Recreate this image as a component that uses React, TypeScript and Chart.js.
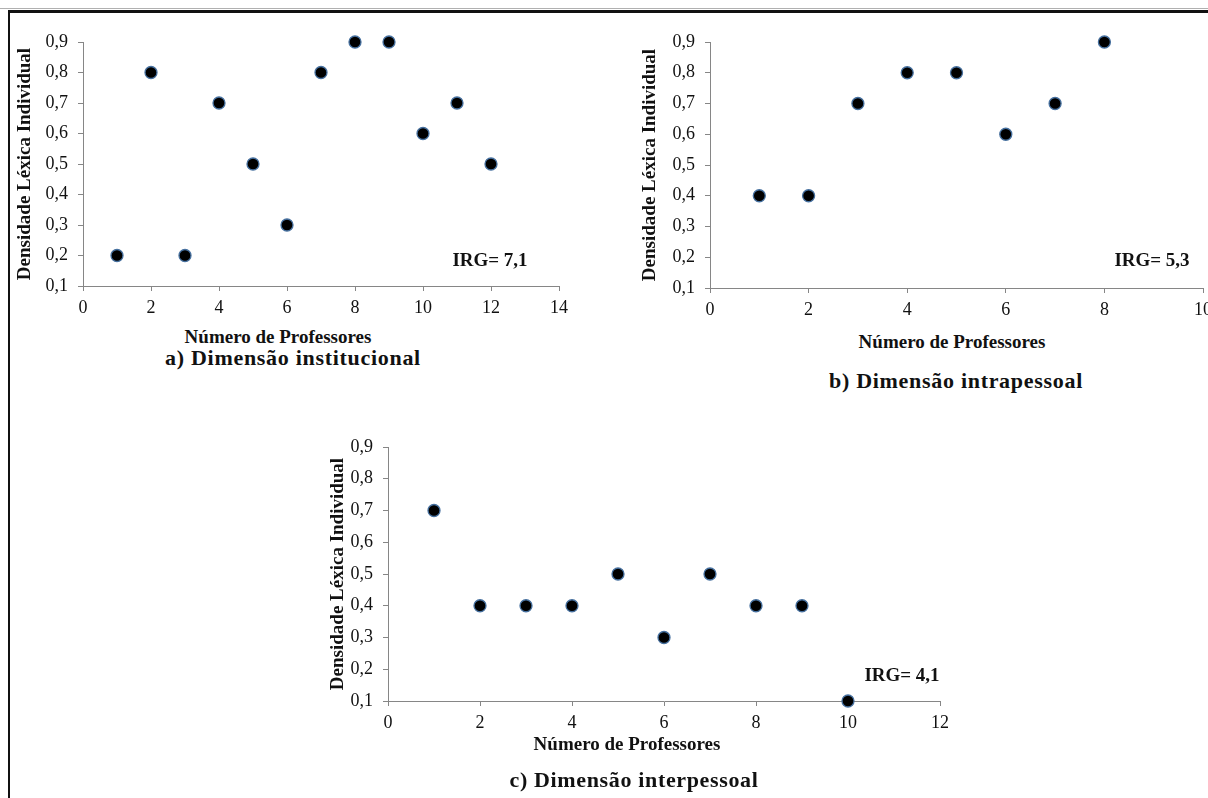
import React, { useEffect, useRef } from "react";
import { Chart, registerables } from "chart.js";

Chart.register(...registerables);

// ---- data ----
const xA = [1, 2, 3, 4, 5, 6, 7, 8, 9, 10, 11, 12];
const yA = [0.2, 0.8, 0.2, 0.7, 0.5, 0.3, 0.8, 0.9, 0.9, 0.6, 0.7, 0.5];
const xB = [1, 2, 3, 4, 5, 6, 7, 8];
const yB = [0.4, 0.4, 0.7, 0.8, 0.8, 0.6, 0.7, 0.9];
const xC = [1, 2, 3, 4, 5, 6, 7, 8, 9, 10];
const yC = [0.7, 0.4, 0.4, 0.4, 0.5, 0.3, 0.5, 0.4, 0.4, 0.1];

const xTicksA = [0, 2, 4, 6, 8, 10, 12, 14];
const xTicksB = [0, 2, 4, 6, 8, 10];
const xTicksC = [0, 2, 4, 6, 8, 10, 12];
const yTicks = [0.1, 0.2, 0.3, 0.4, 0.5, 0.6, 0.7, 0.8, 0.9];

const yTitle = "Densidade Léxica Individual";
const xTitle = "Número de Professores";
const subA = "a) Dimensão institucional";
const subB = "b) Dimensão intrapessoal";
const subC = "c) Dimensão interpessoal";
const irgA = "IRG= 7,1";
const irgB = "IRG= 5,3";
const irgC = "IRG= 4,1";

const FONT = "'Liberation Serif', 'Times New Roman', serif";
const AXIS = "#868686";
const TEXT = "#111111";

type PanelProps = {
  xs: number[];
  ys: number[];
  xTicks: number[];
  left: number;
  top: number;
  width: number;
  height: number;
  yAxisWidth: number;
  yTitlePad: number;
  padTop: number;
  padRight: number;
};

function Panel(p: PanelProps) {
  const ref = useRef<HTMLCanvasElement | null>(null);
  useEffect(() => {
    if (!ref.current) return;
    const chart = new Chart(ref.current, {
      type: "scatter",
      data: {
        datasets: [
          {
            data: p.xs.map((x, i) => ({ x, y: p.ys[i] })),
            backgroundColor: "#000000",
            borderColor: "#46709f",
            borderWidth: 1.3,
            pointRadius: 6,
            pointHoverRadius: 6,
            clip: false,
          } as any,
        ],
      },
      options: {
        animation: false,
        responsive: false,
        devicePixelRatio: 1,
        layout: { padding: { top: p.padTop, right: p.padRight, left: 0, bottom: 0 } },
        plugins: { legend: { display: false }, tooltip: { enabled: false } },
        scales: {
          x: {
            type: "linear",
            position: "bottom",
            min: p.xTicks[0],
            max: p.xTicks[p.xTicks.length - 1],
            afterBuildTicks: (s: any) => {
              s.ticks = p.xTicks.map((v) => ({ value: v }));
            },
            afterFit: (s: any) => {
              s.height = 40;
            },
            grid: { drawOnChartArea: false, drawTicks: true, tickLength: 5, color: AXIS },
            border: { display: true, color: AXIS, width: 1 },
            ticks: {
              padding: 6,
              color: TEXT,
              font: { family: FONT, size: 18 },
              callback: (v: any) => String(v),
            },
          },
          y: {
            type: "linear",
            min: yTicks[0],
            max: yTicks[yTicks.length - 1],
            afterBuildTicks: (s: any) => {
              s.ticks = yTicks.map((v) => ({ value: v }));
            },
            afterFit: (s: any) => {
              s.width = p.yAxisWidth;
            },
            grid: { drawOnChartArea: false, drawTicks: true, tickLength: 5, color: AXIS },
            border: { display: true, color: AXIS, width: 1 },
            ticks: {
              padding: 10,
              color: TEXT,
              font: { family: FONT, size: 18 },
              callback: (v: any) => Number(v).toFixed(1).replace(".", ","),
            },
            title: {
              display: true,
              text: yTitle,
              color: TEXT,
              font: { family: FONT, size: 19, weight: "bold", lineHeight: 1.2 },
              padding: { top: p.yTitlePad, bottom: 0 },
            },
          },
        },
      } as any,
    });
    return () => chart.destroy();
  }, []);
  return (
    <canvas
      ref={ref}
      width={p.width}
      height={p.height}
      style={{ position: "absolute", left: p.left, top: p.top, width: p.width, height: p.height }}
    />
  );
}

function Label(props: { text: string; cx: number; base: number; size: number; ls?: number }) {
  const { text, cx, base, size, ls = 0 } = props;
  return (
    <div
      style={{
        position: "absolute",
        left: cx,
        top: base - 0.8375 * size,
        transform: "translateX(-50%)",
        whiteSpace: "nowrap",
        fontFamily: FONT,
        fontWeight: "bold",
        fontSize: size,
        lineHeight: 1,
        letterSpacing: ls,
        color: TEXT,
      }}
    >
      {text}
    </div>
  );
}

export default function App() {
  return (
    <div
      style={{
        position: "fixed",
        left: 0,
        top: 0,
        width: 1208,
        height: 798,
        overflow: "hidden",
        background: "#ffffff",
      }}
    >
      <div style={{ position: "absolute", left: 0, top: 8, width: 1208, height: 1, background: "#b0b0b0" }} />
      <div
        style={{
          position: "absolute",
          left: 8,
          top: 10,
          width: 1200,
          height: 800,
          borderLeft: "2px solid #111",
          borderTop: "3px solid #111",
          boxSizing: "border-box",
        }}
      />

      {/* a) */}
      <Panel xs={xA} ys={yA} xTicks={xTicksA} left={13} top={20} width={566} height={306}
        yAxisWidth={70} yTitlePad={1} padTop={22} padRight={20} />
      <Label text={xTitle} cx={278} base={343} size={19} />
      <Label text={subA} cx={293} base={365} size={22} ls={0.7} />
      <Label text={irgA} cx={490} base={266} size={19} />

      {/* b) */}
      <Panel xs={xB} ys={yB} xTicks={xTicksB} left={638} top={20} width={592} height={308}
        yAxisWidth={72} yTitlePad={1} padTop={22} padRight={27} />
      <Label text={xTitle} cx={952} base={348} size={19} />
      <Label text={subB} cx={956} base={388} size={22} ls={0.7} />
      <Label text={irgB} cx={1152} base={266} size={19} />

      {/* c) */}
      <Panel xs={xC} ys={yC} xTicks={xTicksC} left={318} top={425} width={642} height={316}
        yAxisWidth={70} yTitlePad={9} padTop={22} padRight={20} />
      <Label text={xTitle} cx={627} base={750} size={19} />
      <Label text={subC} cx={634} base={787} size={22} ls={0.65} />
      <Label text={irgC} cx={902} base={681} size={19} />
    </div>
  );
}
